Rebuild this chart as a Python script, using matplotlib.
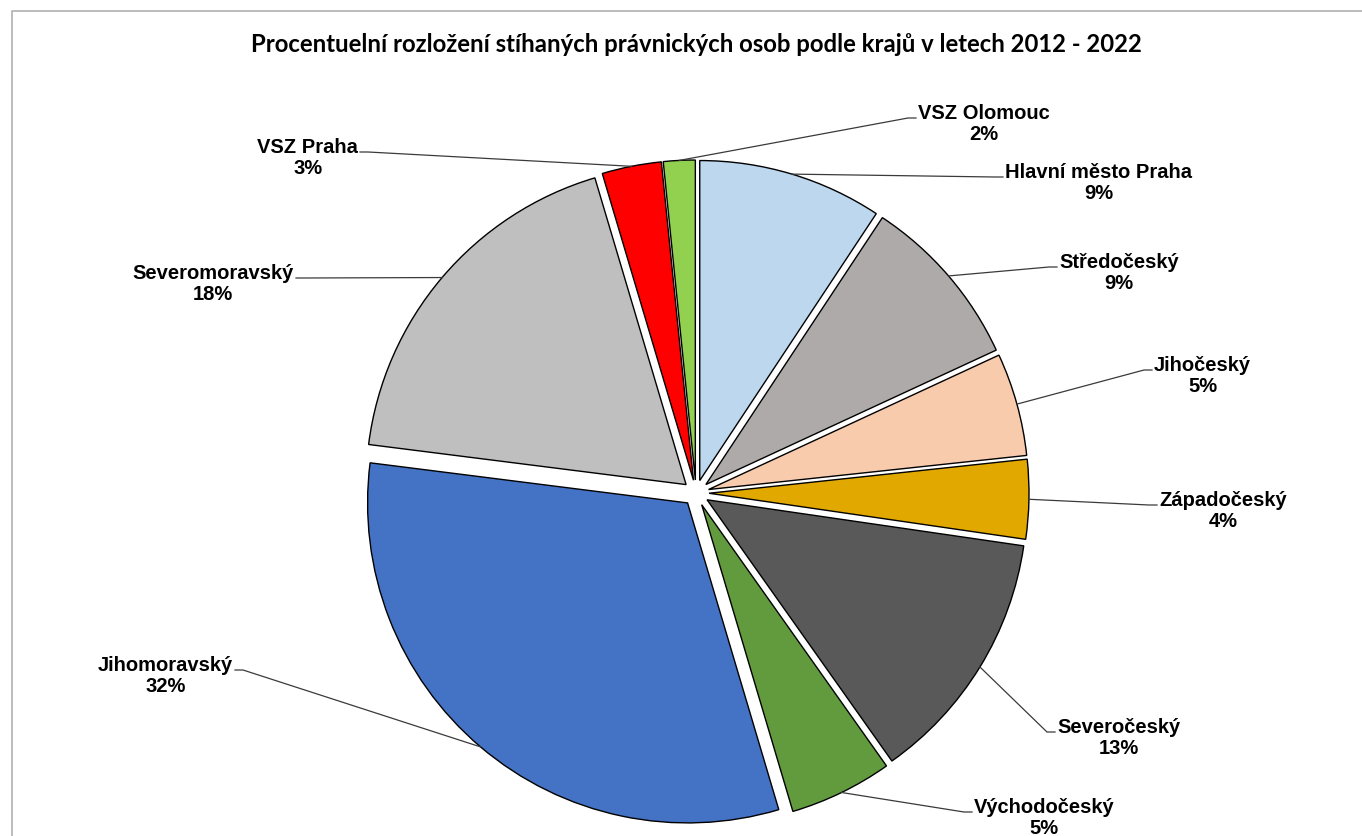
import numpy as np
import matplotlib
matplotlib.use("Agg")
import matplotlib.pyplot as plt

# data (clockwise from 12 o'clock)
regions = ["Hlavní město Praha", "Středočeský", "Jihočeský", "Západočeský",
           "Severočeský", "Východočeský", "Jihomoravský", "Severomoravský",
           "VSZ Praha", "VSZ Olomouc"]
shares = [9.3, 8.8, 5.2, 4.0, 12.9, 5.2, 31.6, 18.4, 3.0, 1.6]
pct_labels = ["9%", "9%", "5%", "4%", "13%", "5%", "32%", "18%", "3%", "2%"]
colors = ["#BDD7EE", "#AEAAAA", "#F8CBAD", "#E1A800", "#595959",
          "#629B3E", "#4472C4", "#BFBFBF", "#FF0000", "#92D050"]
title = "Procentuelní rozložení stíhaných právnických osob podle krajů v letech 2012 - 2022"

# label anchor points in pixels (x, y from top) and side of the text
anchors = [(1003, 177, "r"), (1057, 267, "r"), (1152, 370, "r"), (1157, 505, "r"),
           (1055, 732, "r"), (972, 812, "r"), (235, 670, "l"), (296, 278, "l"),
           (360, 152, "l"), (916, 118, "r")]

W, H = 1362, 836
CX, CY, R = 696, 493, 320
EXPL = 13  # pixels

fig = plt.figure(figsize=(W / 100, H / 100), dpi=100)
ax = fig.add_axes([0, 0, 1, 1])

wedges, _ = ax.pie(shares, colors=colors, startangle=90, counterclock=False,
                   center=(CX, H - CY), radius=R, explode=[EXPL] * len(shares),
                   wedgeprops=dict(edgecolor="black", linewidth=1.0),
                   frame=True)
ax.set_xlim(0, W)
ax.set_ylim(0, H)
ax.set_aspect("equal")
ax.axis("off")

lab_font = dict(family=["Liberation Sans", "DejaVu Sans"], weight="bold", size=14.5)
for w, name, pct, (px, py, side) in zip(wedges, regions, pct_labels, anchors):
    mid = np.deg2rad((w.theta1 + w.theta2) / 2)
    cx, cy = w.center
    ex, ey = cx + R * np.cos(mid), cy + R * np.sin(mid)
    py_ = H - py
    step = -8 if side == "r" else 8
    ax.plot([ex, px + step, px], [ey, py_, py_], color="#3a3a3a", lw=0.9,
            solid_joinstyle="miter")
    if side == "r":
        ax.text(px + 2, py_ - 6, name + "\n" + pct, ha="left", va="center",
                multialignment="center", linespacing=1.1, **lab_font)
    else:
        ax.text(px - 2, py_ - 6, name + "\n" + pct, ha="right", va="center",
                multialignment="center", linespacing=1.1, **lab_font)

ax.text(CX, H - 44, title, ha="center", va="center",
        family=["Lato", "DejaVu Sans"], weight="bold", size=17.2)

# chart border (cropped at right/bottom)
ax.plot([12, 12, W], [0, H - 11, H - 11], color="#B0B0B0", lw=1.2)

fig.savefig("out.png", dpi=100)
